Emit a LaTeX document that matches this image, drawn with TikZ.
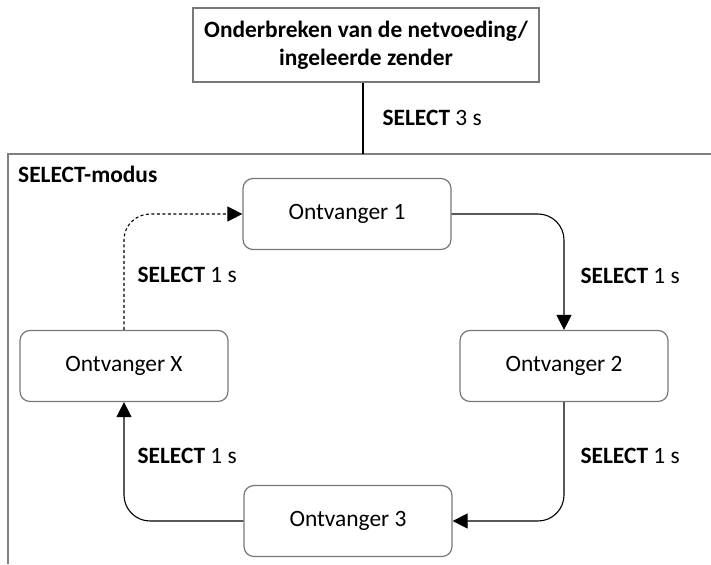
\documentclass[tikz,border=0pt]{standalone}
\usepackage{fontspec}
\setmainfont{Carlito}
\usepackage{xcolor}
\usepackage{tikz}
\usetikzlibrary{arrows.meta, positioning}
\definecolor{boxgray}{RGB}{120, 120, 120}
\definecolor{linegray}{RGB}{128, 128, 128}

\begin{document}
\begin{tikzpicture}[
    x=1pt, y=-1pt,
    every node/.style={font=\fontsize{23.4}{28}\selectfont},
    topnode/.style={rectangle, draw=boxgray, line width=1.2pt, minimum width=346pt, minimum height=74pt, align=center, font=\fontsize{23.4}{28}\selectfont\bfseries},
    recvnode/.style={rectangle, draw=boxgray, rounded corners=10pt, line width=1.2pt, minimum width=208pt, minimum height=71pt, align=center},
    framestyle/.style={draw=linegray, line width=1.5pt},
    arrow/.style={-{Triangle[length=15pt, width=15pt]}, line width=1.1pt, rounded corners=26pt},
    dasharrow/.style={arrow, dash pattern=on 3pt off 2.5pt},
    lbl/.style={anchor=west, inner sep=0pt}
]
    \useasboundingbox (0,0) rectangle (711,564);

    % Frame
    \coordinate (modustop) at (363,154);
    \draw[framestyle] (8,564) |- (711,154);
    \node[anchor=west, inner sep=0pt, font=\fontsize{23.4}{28}\selectfont\bfseries] (modus) at (18,174) {SELECT-modus};

    % Nodes
    \node[topnode] (onderbreken) at (366,45) {Onderbreken van de netvoeding/\\ingeleerde zender};
    \node[recvnode] (ontv1) at (347,214) {Ontvanger 1};
    \node[recvnode] (ontv2) at (564,366) {Ontvanger 2};
    \node[recvnode] (ontv3) at (348,521) {Ontvanger 3};
    \node[recvnode] (ontvx) at (124,366) {Ontvanger X};

    % Edges
    \draw[line width=1.1pt] (onderbreken.south -| modustop) -- node[lbl, right=19pt] {\textbf{SELECT} 3 s} (modustop);
    \draw[arrow] (ontv1.east) -| node[lbl, pos=0.75, xshift=16pt, yshift=-4pt] {\textbf{SELECT} 1 s} (ontv2.north);
    \draw[arrow] (ontv2.south) |- node[lbl, pos=0.25, xshift=16pt, yshift=6pt] {\textbf{SELECT} 1 s} (ontv3.east);
    \draw[arrow] (ontv3.west) -| node[lbl, pos=0.75, xshift=13pt, yshift=6pt] {\textbf{SELECT} 1 s} (ontvx.south);
    \draw[dasharrow] (ontvx.north) |- node[lbl, pos=0.25, xshift=13pt, yshift=-3pt] {\textbf{SELECT} 1 s} (ontv1.west);
\end{tikzpicture}
\end{document}
